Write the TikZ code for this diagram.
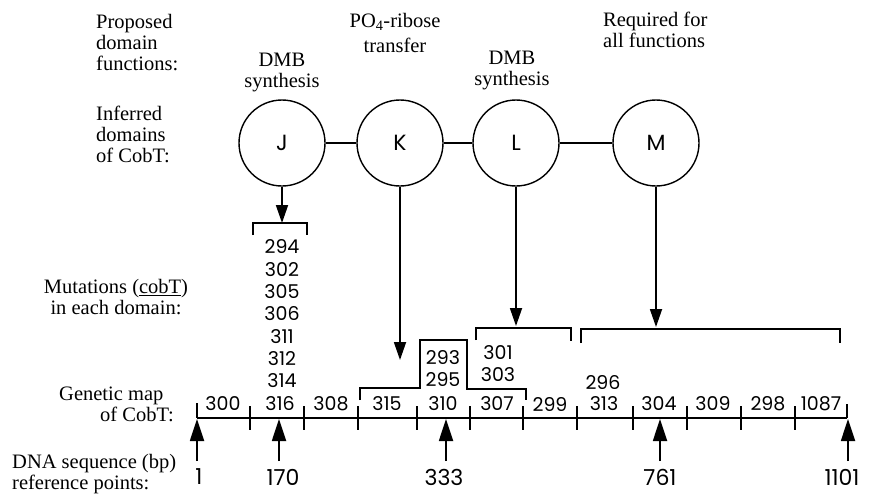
\documentclass[tikz,border=0pt]{standalone}
\usepackage{fontspec}
\setmainfont{Liberation Serif}
\newfontfamily\numfont{Poppins}
\usepackage{tikz}
\usetikzlibrary{arrows.meta}

\begin{document}
\begin{tikzpicture}[x=1pt, y=-1pt,
  domcircle/.style={circle, draw, line width=1.4pt, minimum size=86pt, inner sep=0pt,
                 font=\numfont\fontsize{22}{22}\selectfont},
  lbl/.style={inner sep=0pt, font=\fontsize{20.5}{21}\selectfont},
  num/.style={inner sep=0pt, font=\numfont\fontsize{19}{19}\selectfont},
  refnum/.style={inner sep=0pt, font=\numfont\fontsize{22}{22}\selectfont},
  link/.style={line width=1.6pt},
  pointer/.style={line width=1.8pt, -{Triangle[length=18pt, width=12pt]}},
  uppointer/.style={line width=1.8pt, -{Triangle[length=22pt, width=14pt]}},
  bracket/.style={line width=1.6pt},
  mapline/.style={line width=2.2pt}]

  \useasboundingbox (0,0) rectangle (869,493);

  % ---- Row Labels ----
  \node[lbl, anchor=north west, align=left] (rowfunc) at (96,14) {Proposed\\domain\\functions:};
  \node[lbl, anchor=north west, align=left] (rowdom)  at (96,106) {Inferred\\domains\\of CobT:};
  \node[lbl, align=center] (rowmut) at (116,297) {Mutations (\underline{cobT})\\in each domain:};
  \node[lbl, anchor=north west, align=left] (rowmap) at (59,387) {Genetic map\\\hspace*{41pt}of CobT:};
  \node[lbl, anchor=north west, align=left] (rowdna) at (12,454) {DNA sequence (bp)\\reference points:};

  % ---- Domain Functions ----
  \node[lbl, align=center] (fJ) at (282,72) {DMB\\synthesis};
  \node[lbl, align=center] (fK) at (395,33) {PO\textsubscript{4}-ribose\\[4pt]transfer};
  \node[lbl, align=center] (fL) at (512,70) {DMB\\synthesis};
  \node[lbl, anchor=north west, align=left] (fM) at (603,12) {Required for\\all functions};

  % ---- Domains ----
  \node[domcircle] (J) at (282,143) {J};
  \node[domcircle] (K) at (400,143) {K};
  \node[domcircle] (L) at (516,143) {L};
  \node[domcircle] (M) at (656,143) {M};
  \draw[link] (J) -- (K);
  \draw[link] (K) -- (L);
  \draw[link] (L) -- (M);

  % ---- Pointers to mutations ----
  \coordinate (Jtip) at (282,223);
  \coordinate (Ktip) at (400,360);
  \coordinate (Ltip) at (516,326);
  \coordinate (Mtip) at (656,327);
  \draw[pointer] (J.south) -- (Jtip);
  \draw[pointer] (K.south) -- (Ktip);
  \draw[pointer] (L.south) -- (Ltip);
  \draw[pointer] (M.south) -- (Mtip);

  % ---- Brackets ----
  \draw[bracket] (253,235) -- (253,223) -- (307,223) -- (307,235);
  \draw[bracket] (360,400) -- (360,388) -- (420,388) -- (420,340)
                 -- (467,340) -- (467,389) -- (526,389) -- (526,400);
  \draw[bracket] (476,340) -- (476,328) -- (571,328) -- (571,341);
  \draw[bracket] (581,343) -- (581,329) -- (840,329) -- (840,343);

  % ---- Mutations ----
  \foreach \m [count=\i from 0] in {294,302,305,306,311,312,314}
    \node[num] (mJ\m) at (282,247+22.3*\i) {\m};
  \node[num] (m293) at (443,358) {293};
  \node[num] (m295) at (443,380) {295};
  \node[num] (m301) at (498,353) {301};
  \node[num] (m303) at (498,375) {303};
  \node[num] (m296) at (603,382) {296};

  % ---- Genetic Map ----
  \draw[mapline] (197,418) coordinate (mapstart) -- (847,418) coordinate (mapend);
  \draw[mapline] (197,403) -- (mapstart);
  \draw[mapline] (847,404) -- (mapend);
  \foreach \x in {250,304,358,417,470,523,577,633,687,741,795}
    \draw[mapline] (\x,406) -- (\x,430);
  \foreach \x/\g in {223/300,280/316,331/308,387/315,443/310,497/307,550/299,
                     604/313,659/304,713/309,768/298,821/1087}
    \node[num] (g\g) at (\x,404) {\g};

  % ---- Reference Points ----
  \foreach \x/\r/\lx in {197/1/199,279/170/283,446/333/444,660/761/660,848/1101/842} {
    \draw[uppointer] (\x,461) coordinate (tail\r) -- (\x,419) coordinate (tip\r);
    \node[refnum] (ref\r) at (\lx,477) {\r};
  }

\end{tikzpicture}
\end{document}
